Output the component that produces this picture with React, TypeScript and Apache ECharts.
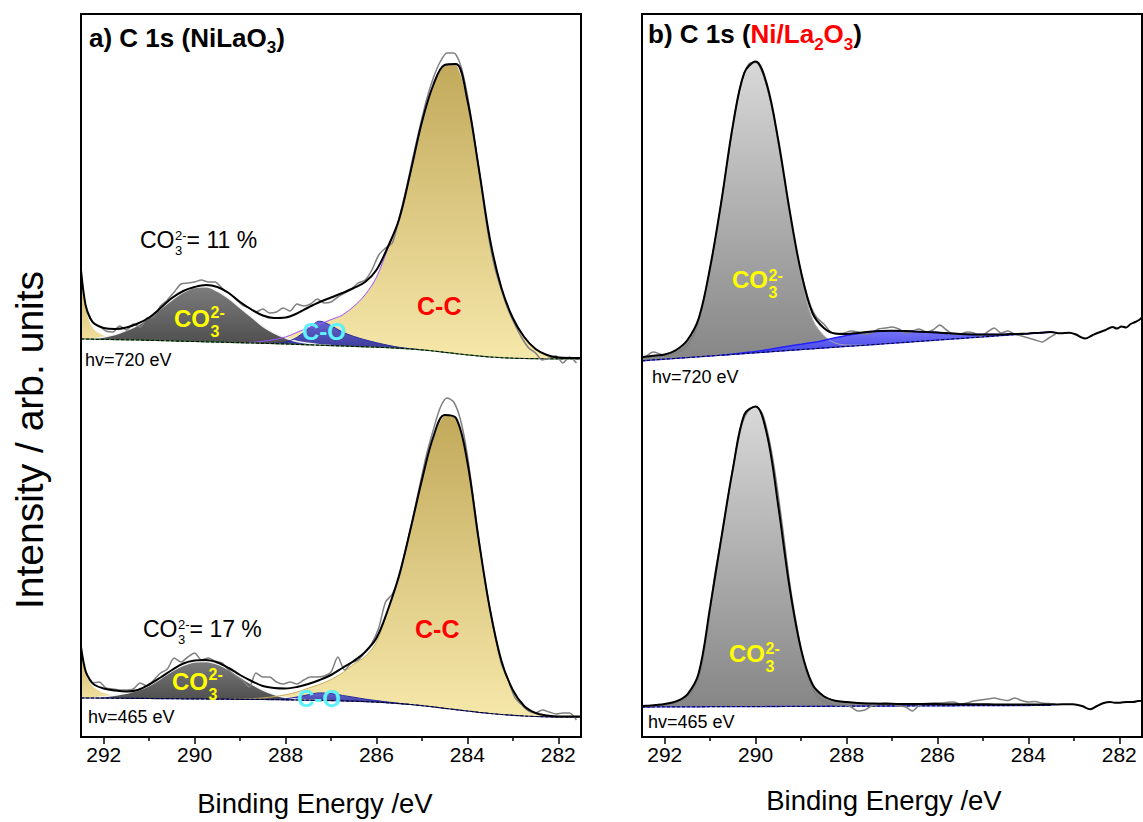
import React, { useEffect, useRef } from "react";
import * as echarts from "echarts";

const FONT = '"Liberation Sans", Arial, Helvetica, sans-serif';

// ---------- sampling of binding energy (eV) ----------
const FIT_BE = [292.5, 292.4, 292.3, 292.2, 292.0, 291.75, 291.5, 291.25, 291.0, 290.75, 290.5, 290.25, 290.0, 289.75, 289.5, 289.25, 289.0, 288.75, 288.5, 288.25, 288.0, 287.75, 287.5, 287.25, 287.0, 286.75, 286.5, 286.25, 286.0, 285.75, 285.5, 285.25, 285.0, 284.75, 284.5, 284.25, 284.0, 283.75, 283.5, 283.25, 283.0, 282.75, 282.5, 282.25, 282.0, 281.75, 281.5];
const RAW_BE = [292.4, 292.25, 292.1, 291.95, 291.8, 291.65, 291.5, 291.35, 291.2, 291.05, 290.9, 290.75, 290.6, 290.45, 290.3, 290.15, 290.0, 289.85, 289.7, 289.55, 289.4, 289.25, 289.1, 288.95, 288.8, 288.65, 288.5, 288.35, 288.2, 288.05, 287.9, 287.75, 287.6, 287.45, 287.3, 287.15, 287.0, 286.85, 286.7, 286.55, 286.4, 286.25, 286.1, 285.95, 285.8, 285.65, 285.5, 285.35, 285.2, 285.05, 284.9, 284.75, 284.6, 284.45, 284.3, 284.15, 284.0, 283.85, 283.7, 283.55, 283.4, 283.25, 283.1, 282.95, 282.8, 282.65, 282.5, 282.35, 282.2, 282.05, 281.9, 281.75, 281.6];
const FIT_N_B = 39; // panel b fit ends at 283.5 eV
const RAW_N_B = 61; // panel b raw data ends at 283.4 eV

const MAJOR_TICKS = [282, 284, 286, 288, 290, 292];
const MINOR_TICKS = [283, 285, 287, 289, 291];

// ---------- panel a, hv = 720 eV ----------
const A720_BASE = [398.0, 398.0, 397.9, 397.8, 397.6, 397.4, 397.2, 397.0, 396.7, 396.4, 396.1, 395.8, 395.5, 395.2, 394.9, 394.6, 394.3, 394.0, 393.7, 393.4, 393.0, 392.6, 392.2, 391.8, 391.4, 391.0, 390.6, 390.2, 389.8, 389.3, 388.7, 388.0, 387.1, 386.0, 384.7, 383.4, 382.1, 381.0, 380.0, 379.3, 378.8, 378.5, 378.3, 378.2, 378.1, 378.1, 378.1];
const A720_TAIL_START = 0;
const A720_TAIL = [68, 32, 16, 9, 4, 2, 1, 0.5, 0.2];
const A720_CO3_START = 3;
const A720_CO3 = [0.5, 2.5, 5, 9.5, 15, 23, 32, 41, 49, 54, 55, 51, 44, 35, 26, 17, 10.5, 6, 3, 1.5, 0.5];
const A720_CO_START = 19;
const A720_CO = [0.5, 2, 7, 16, 24, 20, 14, 10, 7, 4.5, 2.5, 1, 0.3];
const A720_CC_START = 17;
const A720_CC = [0.5, 2, 4, 7, 12, 17, 21, 26, 31, 40, 52, 70, 99, 129, 177, 228, 266, 287, 289, 255, 188, 117, 70, 40, 22, 10, 4, 1.5, 0.5];
const A720_ENV = [467, 432, 419, 413, 409, 408, 409.5, 413.5, 419.5, 429, 439, 446, 450, 452, 450, 444, 435, 427.5, 421.5, 419, 419.5, 423.5, 429.5, 435, 439.5, 444, 449, 455, 467, 490, 518, 565, 615, 652, 672, 673, 637, 569, 497, 449, 419, 400, 388, 382, 379.5, 379, 379];
const A720_RAW = [431, 415, 411, 406, 405, 411, 407, 413, 410, 419, 420, 431, 437, 445, 453, 454, 455, 457, 455, 455, 449, 444, 438, 432, 429, 425, 428, 424, 425, 429, 426, 433, 431, 433, 438, 434, 435, 440, 444, 448, 454, 457, 467, 482, 489, 494, 519, 547, 579, 609, 637, 659, 675, 684, 684, 672, 642, 599, 554, 505, 470, 447, 427, 412, 399, 389, 384, 377, 379, 381, 374, 380, 374];

// ---------- panel a, hv = 465 eV ----------
const A465_BASE = [39.0, 39.0, 39.0, 39.0, 38.9, 38.8, 38.7, 38.6, 38.5, 38.4, 38.3, 38.2, 38.1, 38.0, 37.9, 37.8, 37.7, 37.6, 37.5, 37.4, 37.2, 37.0, 36.8, 36.6, 36.4, 36.1, 35.8, 35.4, 34.9, 34.2, 33.4, 32.5, 31.4, 30.1, 28.7, 27.3, 26.0, 24.7, 23.5, 22.5, 21.7, 21.0, 20.5, 20.2, 20.0, 20.0, 20.0];
const A465_TAIL_START = 0;
const A465_TAIL = [51, 25, 15, 10, 5, 2.5, 1.2, 0.5, 0.2];
const A465_CO3_START = 3;
const A465_CO3 = [0.3, 1.5, 3, 5, 8, 13, 20, 27.5, 33.5, 37, 37.5, 35, 29.5, 22.5, 15.5, 9.5, 5, 2.2, 0.8, 0.3];
const A465_CO_START = 19;
const A465_CO = [0.3, 1, 3, 5.5, 7.5, 7, 5.5, 4, 2.5, 1.5, 0.8, 0.3];
const A465_CC_START = 16;
const A465_CC = [0.3, 0.7, 1.5, 3, 5, 8, 12, 16, 21, 28, 37, 45, 60, 92, 128, 175, 225, 269, 293, 291, 249, 172, 103, 53, 25, 10, 3.5, 1.3, 0.5, 0.2];
const A465_ENV = [90, 66, 57, 52, 48.5, 46.5, 45.5, 47, 52.5, 59.5, 67, 73.5, 76.5, 77, 74.5, 69, 62, 56, 51, 49, 48.5, 50, 53, 57, 62, 69, 76, 85, 99, 127, 162, 208, 257, 300, 322, 319, 275, 197, 127, 76, 47, 31, 24, 21.5, 20.5, 20.5, 20.5];
const A465_RAW = [65, 54, 55, 49, 48, 47, 47, 48, 54, 51, 57, 64, 68, 79, 75, 80, 84, 77, 79, 76, 74, 67, 61, 57, 50, 64, 60, 60, 55, 53, 55, 53, 57, 60, 60, 61, 65, 80, 67, 74, 77, 85, 94, 109, 135, 143, 160, 189, 219, 251, 282, 307, 329, 339, 335, 317, 282, 232, 182, 139, 104, 73, 57, 39, 32, 26, 24, 27, 25, 23, 24, 24, 17];

// ---------- panel b, hv = 720 eV ----------
const B720_BASE = [376.2, 376.5, 376.9, 377.2, 377.8, 378.6, 379.4, 380.2, 381.0, 381.8, 382.6, 383.4, 384.2, 385.0, 385.8, 386.6, 387.4, 388.2, 389.0, 389.8, 390.6, 391.3, 392.1, 392.9, 393.7, 394.5, 395.3, 396.1, 396.9, 397.7, 398.5, 399.3, 400.1, 400.9, 401.7, 402.5, 403.3, 404.1, 404.9];
const B720_CO3_START = 0;
const B720_CO3 = [3.5, 4, 4.1, 4.3, 4.7, 8.4, 17.6, 38.8, 89, 155, 229, 280, 290, 265, 207, 135, 72, 29.5, 12.4, 4.2, 1.4, 0.5, 0.2];
const B720_CO_START = 10;
const B720_CO = [0.3, 0.8, 1.3, 2.2, 3.5, 4.5, 5.3, 6.3, 7.6, 9.5, 11, 12.3, 13, 13.2, 12.6, 11.6, 10.3, 9, 7.5, 6, 4.5, 3.3, 2.3, 1.5, 1, 0.6, 0.3, 0.1];
const B720_RAW = [381, 385, 383, 381, 383, 386, 392, 403, 425, 457, 494, 537, 581, 625, 657, 673, 675, 664, 641, 608, 567, 524, 485, 456, 432, 419, 413, 405, 403, 404, 406, 405, 403, 404, 408, 409, 410, 408, 404, 406, 408, 405, 407, 412, 407, 403, 403, 405, 404, 401, 405, 409, 404, 406, 403, 401, 399, 397, 395, 399, 403];
const B720_TAIL_BE = [283.3, 283.1, 282.95, 282.85, 282.75, 282.6, 282.45, 282.3, 282.15, 282.05, 281.95, 281.85, 281.75, 281.65, 281.55, 281.5];
const B720_TAIL = [403.8, 404.3, 402.5, 400, 398.5, 401.5, 404.5, 407, 410, 408.5, 410.5, 409.5, 413, 415, 417.5, 420];

// ---------- panel b, hv = 465 eV ----------
const B465_BASE = [30.0, 30.0, 30.0, 30.1, 30.1, 30.1, 30.2, 30.2, 30.3, 30.3, 30.4, 30.4, 30.4, 30.5, 30.5, 30.6, 30.6, 30.7, 30.7, 30.8, 30.8, 30.9, 30.9, 30.9, 31.0, 31.0, 31.1, 31.1, 31.2, 31.2, 31.3, 31.3, 31.4, 31.4, 31.4, 31.5, 31.5, 31.6, 31.6];
const B465_CO3_START = 0;
const B465_CO3 = [1, 1.2, 1.5, 1.8, 2.9, 5.5, 12.5, 34, 100, 170, 238, 292, 300, 272, 200, 118, 57, 22, 10, 5.5, 4.2, 3.2, 2.7, 2.4, 2.2, 2.0, 1.9, 1.8, 1.7, 1.6, 1.5, 1.4, 1.3, 1.2, 1.1, 1.0, 1.0, 0.9, 0.9];
const B465_RAW = [30.8, 31.2, 31.8, 32.5, 33.5, 36.5, 40, 49, 69, 110, 162, 200, 242, 281, 313, 327, 330.5, 323, 297, 257, 207, 154, 112, 77, 54, 41, 36, 33, 32, 32.5, 30, 26, 27, 31, 33, 34, 33, 31, 30, 26, 32, 33.5, 34, 34, 34.5, 35, 33, 34, 36, 37, 38, 39, 37.5, 36.5, 39, 36.5, 35, 35.5, 34, 33.5, 33];
const B465_TAIL_BE = [283.25, 283.02, 282.82, 282.64, 282.49, 282.36, 282.2, 282.1, 281.98, 281.83, 281.7, 281.59, 281.5];
const B465_TAIL = [32.7, 32.7, 31, 27.7, 31, 33.7, 35, 34.2, 34.3, 35, 35, 36, 36.3];

// ---------- helpers ----------
function onGrid(n: number, start: number, vals: number[]): number[] {
  const out: number[] = new Array(n).fill(0);
  vals.forEach((v, i) => {
    if (start + i < n) out[start + i] = v;
  });
  return out;
}

const grad = (c0: string, c1: string) =>
  new echarts.graphic.LinearGradient(0, 0, 0, 1, [
    { offset: 0, color: c0 },
    { offset: 1, color: c1 },
  ]);

let measureCtx: CanvasRenderingContext2D | null = null;
function textWidth(t: string, size: number, weight: string) {
  if (!measureCtx) measureCtx = document.createElement("canvas").getContext("2d");
  if (!measureCtx) return t.length * size * 0.55;
  measureCtx.font = `${weight} ${size}px ${FONT}`;
  return measureCtx.measureText(t).width;
}

function T(text: string, x: number, yb: number, size: number, color = "#000", weight = "normal", align = "left") {
  return {
    type: "text",
    x,
    y: yb - 0.347 * size,
    z: 60,
    silent: true,
    style: {
      text,
      fill: color,
      font: `${weight} ${size}px ${FONT}`,
      align,
      verticalAlign: "middle",
      textAlign: align,
      textVerticalAlign: "middle",
    },
  };
}

// CO3(2-) with stacked super/subscript
function chem(x: number, yb: number, size: number, color: string, weight: string, small: number, supDy: number, subDy: number, tail?: string) {
  const els: any[] = [];
  els.push(T("CO", x, yb, size, color, weight));
  const sx = x + textWidth("CO", size, weight) + 0.5;
  els.push(T("2-", sx, yb + supDy, small, color, weight));
  els.push(T("3", sx, yb + subDy, small, color, weight));
  if (tail) {
    const w = textWidth("2-", small, weight);
    els.push(T(tail, sx + w, yb, size, color, weight));
  }
  return els;
}

function buildOption() {
  const series: any[] = [];
  const nA = FIT_BE.length;

  function range(h: number[]) {
    let first = -1;
    let last = -1;
    h.forEach((v, i) => {
      if (v > 0) {
        if (first < 0) first = i;
        last = i;
      }
    });
    return [Math.max(0, first - 1), Math.min(h.length - 1, last + 1)];
  }

  // filled peak between the background and background + component
  function addFill(xi: number, yi: number, be: number[], base: number[], h: number[], fill: any, opacity = 1) {
    const [i0, i1] = range(h);
    const top: number[][] = [];
    const bot: number[][] = [];
    for (let i = i0; i <= i1; i++) {
      top.push([be[i], base[i] + h[i]]);
      bot.push([be[i], base[i]]);
    }
    const botUse = bot.filter((_, k) => h[i0 + k] > 0.0001);
    const poly = top.concat(botUse.reverse());
    series.push({
      type: "custom",
      coordinateSystem: "cartesian2d",
      xAxisIndex: xi,
      yAxisIndex: yi,
      clip: true,
      silent: true,
      z: 2,
      data: [[be[i0], base[i0]]],
      renderItem: (_p: any, api: any) => ({
        type: "polygon",
        shape: { points: poly.map((p) => api.coord(p)), smooth: 0.25 },
        style: { fill, opacity },
      }),
    });
  }

  function addLine(xi: number, yi: number, pts: any[], color: string, width: number, smooth = 0.35, type: any = "solid") {
    series.push({
      type: "line",
      xAxisIndex: xi,
      yAxisIndex: yi,
      data: pts,
      symbol: "none",
      smooth,
      lineStyle: { color, width, type },
      silent: true,
      z: 3,
    });
  }

  function addOutline(xi: number, yi: number, be: number[], base: number[], h: number[], color: string, width: number) {
    const [i0, i1] = range(h);
    const pts: number[][] = [];
    for (let i = i0; i <= i1; i++) pts.push([be[i], base[i] + h[i]]);
    addLine(xi, yi, pts, color, width, 0.35);
  }

  function panelA(base: number[], tail: number[], co3: number[], co: number[], cc: number[], env: number[], raw: number[], ccLine: string, baseCol: string) {
    addFill(0, 0, FIT_BE, base, cc, grad("#c2a95b", "#f6e8aa"));
    addFill(0, 0, FIT_BE, base, tail, grad("#cdb46a", "#f0df9c"));
    addFill(0, 0, FIT_BE, base, co3, grad("#7c7c7c", "#4e4e4e"));
    addFill(0, 0, FIT_BE, base, co, grad("#5a5ad4", "#2b2b96"), 0.93);
    addOutline(0, 0, FIT_BE, base, co3, "#f2f2f2", 1.5);
    addOutline(0, 0, FIT_BE, base, co, "#2a2a9c", 1);
    addOutline(0, 0, FIT_BE, base, cc, ccLine, 1);
    addLine(0, 0, FIT_BE.map((x, i) => [x, base[i]]), baseCol, 1.2, 0.3);
    addLine(0, 0, FIT_BE.map((x, i) => [x, base[i]]), "#000", 1, 0.3, [3, 2]);
    addLine(0, 0, RAW_BE.map((x, i) => [x, raw[i]]), "#808080", 1.5, 0.25);
    addLine(0, 0, FIT_BE.map((x, i) => [x, env[i]]), "#000", 2, 0.35);
  }

  function panelB(base: number[], co3: number[], co: number[] | null, raw: number[], tailBE: number[], tail: number[]) {
    const be = FIT_BE.slice(0, FIT_N_B);
    addFill(2, 1, be, base, co3, grad("#d8d8d8", "#868686"));
    addOutline(2, 1, be, base, co3, "#a9a9a9", 1);
    if (co) {
      addFill(2, 1, be, base, co, grad("#7474f6", "#4343e8"));
      addOutline(2, 1, be, base, co, "#2222ff", 1.5);
    }
    addLine(2, 1, be.map((x, i) => [x, base[i]]), "#3333ff", 1.3, 0.3);
    addLine(2, 1, be.map((x, i) => [x, base[i]]), "#000", 1, 0.3, [3, 2]);
    addLine(2, 1, RAW_BE.slice(0, RAW_N_B).map((x, i) => [x, raw[i]]), "#808080", 1.5, 0.25);
    const env = be
      .map((x, i) => [x, base[i] + co3[i] + (co ? co[i] : 0)])
      .concat(tailBE.map((x, i) => [x, tail[i]]));
    addLine(2, 1, env, "#000", 2, 0.35);
  }

  panelA(
    A720_BASE,
    onGrid(nA, A720_TAIL_START, A720_TAIL),
    onGrid(nA, A720_CO3_START, A720_CO3),
    onGrid(nA, A720_CO_START, A720_CO),
    onGrid(nA, A720_CC_START, A720_CC),
    A720_ENV,
    A720_RAW,
    "#a050ff",
    "#2f6e2f"
  );
  panelA(
    A465_BASE,
    onGrid(nA, A465_TAIL_START, A465_TAIL),
    onGrid(nA, A465_CO3_START, A465_CO3),
    onGrid(nA, A465_CO_START, A465_CO),
    onGrid(nA, A465_CC_START, A465_CC),
    A465_ENV,
    A465_RAW,
    "#c8ae5c",
    "#1e1e8e"
  );
  panelB(
    B720_BASE,
    onGrid(FIT_N_B, B720_CO3_START, B720_CO3),
    onGrid(FIT_N_B, B720_CO_START, B720_CO),
    B720_RAW,
    B720_TAIL_BE,
    B720_TAIL
  );
  panelB(B465_BASE, onGrid(FIT_N_B, B465_CO3_START, B465_CO3), null, B465_RAW, B465_TAIL_BE, B465_TAIL);

  const xAxisFor = (gridIndex: number, major: boolean) => ({
    gridIndex,
    type: "value",
    min: 281.5,
    max: 292.5,
    inverse: true,
    position: "bottom",
    axisLine: { show: false },
    splitLine: { show: false },
    axisTick: {
      show: true,
      inside: false,
      length: major ? 7 : 4,
      lineStyle: { color: "#000", width: 1.5 },
      customValues: major ? MAJOR_TICKS : MINOR_TICKS,
    },
    axisLabel: major
      ? { show: true, customValues: MAJOR_TICKS, color: "#000", fontSize: 21, fontFamily: FONT, margin: 7 }
      : { show: false },
  });

  const graphic: any[] = [
    { type: "rect", z: 100, silent: true, shape: { x: 81, y: 14, width: 500, height: 723 }, style: { fill: "none", stroke: "#000", lineWidth: 2 } },
    { type: "rect", z: 100, silent: true, shape: { x: 642, y: 14, width: 500, height: 723 }, style: { fill: "none", stroke: "#000", lineWidth: 2 } },
  ];

  // title a
  {
    const x0 = 89, yb = 46.7;
    const t1 = "a) C 1s (NiLaO";
    const w1 = textWidth(t1, 26, "bold");
    graphic.push(T(t1, x0, yb, 26, "#000", "bold"));
    graphic.push(T("3", x0 + w1, yb + 7, 17, "#000", "bold"));
    graphic.push(T(")", x0 + w1 + textWidth("3", 17, "bold"), yb, 26, "#000", "bold"));
  }
  // title b
  {
    let x = 648;
    const yb = 43.5;
    const parts: [string, number, string, number][] = [
      ["b) C 1s (", 26, "#000", 0],
      ["Ni/La", 26, "#ff0000", 0],
      ["2", 17, "#ff0000", 7],
      ["O", 26, "#ff0000", 0],
      ["3", 17, "#ff0000", 7],
      [")", 26, "#000", 0],
    ];
    parts.forEach(([t, s, c, dy]) => {
      graphic.push(T(t, x, yb + dy, s, c, "bold"));
      x += textWidth(t, s, "bold");
    });
  }

  graphic.push(...chem(140, 248, 23, "#000", "normal", 13, -8, 7, "= 11 %"));
  graphic.push(...chem(143, 637, 23, "#000", "normal", 13, -8, 7, "= 17 %"));
  graphic.push(...chem(174, 327, 24, "#ffff00", "bold", 16, -9, 10));
  graphic.push(...chem(172, 690, 24, "#ffff00", "bold", 16, -10, 10));
  graphic.push(...chem(732, 288, 24, "#ffff00", "bold", 16, -7, 10));
  graphic.push(...chem(729, 662, 24, "#ffff00", "bold", 16, -8, 10));
  graphic.push(T("C-O", 302, 340, 24, "#5ef2ff", "bold"));
  graphic.push(T("C-O", 297, 707, 24, "#5ef2ff", "bold"));
  graphic.push(T("C-C", 417, 315, 25, "#ff0000", "bold"));
  graphic.push(T("C-C", 415, 638, 25, "#ff0000", "bold"));
  graphic.push(T("hv=720 eV", 85, 366, 18));
  graphic.push(T("hv=465 eV", 88, 723, 18));
  graphic.push(T("hv=720 eV", 652, 383, 18));
  graphic.push(T("hv=465 eV", 648, 728, 18));
  graphic.push(T("Binding Energy /eV", 315, 813, 27.5, "#000", "normal", "center"));
  graphic.push(T("Binding Energy /eV", 884, 810, 27.5, "#000", "normal", "center"));
  graphic.push({
    type: "text",
    x: 29,
    y: 440,
    rotation: Math.PI / 2,
    z: 60,
    silent: true,
    style: {
      text: "Intensity / arb. units",
      fill: "#000",
      font: `normal 39px ${FONT}`,
      align: "center",
      verticalAlign: "middle",
      textAlign: "center",
      textVerticalAlign: "middle",
    },
  });

  return {
    animation: false,
    backgroundColor: "#ffffff",
    grid: [
      { left: 81, top: 14, width: 500, height: 723 },
      { left: 642, top: 14, width: 500, height: 723 },
    ],
    xAxis: [xAxisFor(0, true), xAxisFor(0, false), xAxisFor(1, true), xAxisFor(1, false)],
    yAxis: [
      { gridIndex: 0, type: "value", min: 0, max: 723, show: false },
      { gridIndex: 1, type: "value", min: 0, max: 723, show: false },
    ],
    series,
    graphic,
  };
}

export default function App() {
  const ref = useRef<HTMLDivElement>(null);
  useEffect(() => {
    if (!ref.current) return;
    const chart = echarts.init(ref.current, undefined, { renderer: "svg" });
    chart.setOption(buildOption() as any);
    return () => {
      chart.dispose();
    };
  }, []);
  return <div ref={ref} style={{ position: "absolute", left: 0, top: 0, width: 1143, height: 822 }} />;
}
